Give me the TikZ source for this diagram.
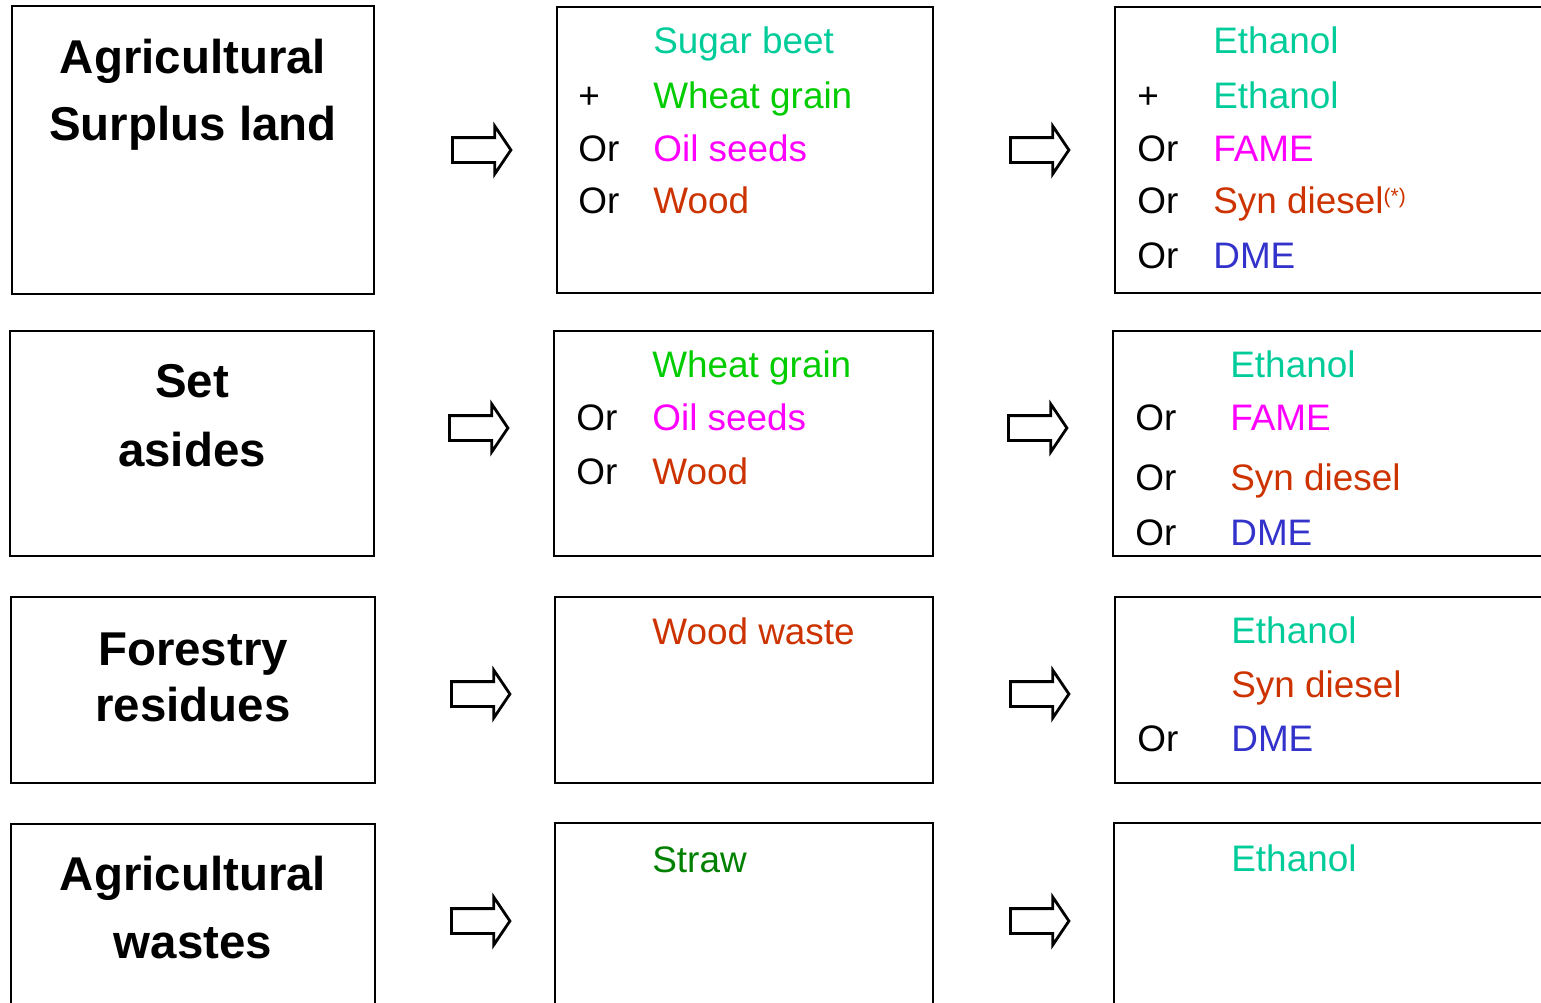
\documentclass[tikz,border=0pt]{standalone}
\usepackage{fontspec}
\setmainfont{Liberation Sans}
\usetikzlibrary{shapes.arrows, fit}
\definecolor{cteal}{HTML}{00CC99}
\definecolor{cwheat}{HTML}{00CC00}
\definecolor{cmag}{HTML}{FF00FF}
\definecolor{cwood}{HTML}{CC3300}
\definecolor{cdme}{HTML}{3333CC}
\definecolor{cstraw}{HTML}{008000}
\tikzset{
  box/.style={draw=black, line width=1.6pt, inner sep=0pt},
  feed/.style={anchor=base, inner sep=0pt, font=\fontsize{27}{32}\selectfont\bfseries},
  item/.style={anchor=base west, inner sep=0pt, font=\fontsize{21}{25}\selectfont},
  fatarrow/.style={single arrow, draw=black, line width=1.6pt, anchor=tail, minimum height=1.17cm,
    inner xsep=0pt, inner ysep=0.22cm, single arrow head extend=0.23cm, single arrow tip angle=112},
}

\begin{document}
\begin{tikzpicture}[x=0.02cm, y=-0.02cm]
  \clip (0,0) rectangle (1541,1002);
  % boxes: feedstock | crop | fuel (right and bottom ones run off the page)
  \node[box, fit={(12,6) (374,294)}] (src1) {};
  \node[box, fit={(10,331) (374,556)}] (src2) {};
  \node[box, fit={(11,597) (375,783)}] (src3) {};
  \node[box, fit={(11,824) (375,1040)}] (src4) {};
  \node[box, fit={(557,7) (933,293)}] (mid1) {};
  \node[box, fit={(554,331) (933,556)}] (mid2) {};
  \node[box, fit={(555,597) (933,783)}] (mid3) {};
  \node[box, fit={(555,823) (933,1040)}] (mid4) {};
  \node[box, fit={(1115,7) (1600,293)}] (out1) {};
  \node[box, fit={(1113,331) (1600,556)}] (out2) {};
  \node[box, fit={(1115,597) (1600,783)}] (out3) {};
  \node[box, fit={(1114,823) (1600,1040)}] (out4) {};
  % block arrows between the columns
  \foreach \n/\y/\xa/\xb in {1/150/451/1009, 2/428/448/1007, 3/694/450/1009, 4/921/450/1009} {
    \node[fatarrow] (arrA\n) at (\xa,\y) {};
    \node[fatarrow] (arrB\n) at (\xb,\y) {};
  }
  % feedstock labels
  \node[feed] (lab1a) at (193,73) {Agricultural};
  \node[feed] (lab1b) at (193,140) {Surplus land};
  \node[feed] (lab2a) at (192,397) {Set};
  \node[feed] (lab2b) at (192,466) {asides};
  \node[feed] (lab3a) at (193,665) {Forestry};
  \node[feed] (lab3b) at (193,721) {residues};
  \node[feed] (lab4a) at (193,890) {Agricultural};
  \node[feed] (lab4b) at (193,958) {wastes};
  % crops, row 1
  \node[item, cteal] (m1a) at (653,53) {Sugar beet};
  \node[item] (p1b) at (578,108) {+};
  \node[item, cwheat] (m1b) at (653,108) {Wheat grain};
  \node[item] (o1c) at (578,161) {Or};
  \node[item, cmag] (m1c) at (653,161) {Oil seeds};
  \node[item] (o1d) at (578,213) {Or};
  \node[item, cwood] (m1d) at (653,213) {Wood};
  % fuels, row 1
  \node[item, cteal] (f1a) at (1213,53) {Ethanol};
  \node[item] (q1b) at (1137,108) {+};
  \node[item, cteal] (f1b) at (1213,108) {Ethanol};
  \node[item] (q1c) at (1137,161) {Or};
  \node[item, cmag] (f1c) at (1213,161) {FAME};
  \node[item] (q1d) at (1137,213) {Or};
  \node[item, cwood] (f1d) at (1213,213) {Syn diesel\raisebox{0.19cm}{\fontsize{12}{14}\selectfont(*)}};
  \node[item] (q1e) at (1137,268) {Or};
  \node[item, cdme] (f1e) at (1213,268) {DME};
  % row 2
  \node[item, cwheat] (m2a) at (652,377) {Wheat grain};
  \node[item] (o2b) at (576,430) {Or};
  \node[item, cmag] (m2b) at (652,430) {Oil seeds};
  \node[item] (o2c) at (576,484) {Or};
  \node[item, cwood] (m2c) at (652,484) {Wood};
  \node[item, cteal] (f2a) at (1230,377) {Ethanol};
  \node[item] (q2b) at (1135,430) {Or};
  \node[item, cmag] (f2b) at (1230,430) {FAME};
  \node[item] (q2c) at (1135,490) {Or};
  \node[item, cwood] (f2c) at (1230,490) {Syn diesel};
  \node[item] (q2d) at (1135,545) {Or};
  \node[item, cdme] (f2d) at (1230,545) {DME};
  % row 3
  \node[item, cwood] (m3a) at (652,644) {Wood waste};
  \node[item, cteal] (f3a) at (1231,643) {Ethanol};
  \node[item, cwood] (f3b) at (1231,697) {Syn diesel};
  \node[item] (q3c) at (1137,751) {Or};
  \node[item, cdme] (f3c) at (1231,751) {DME};
  % row 4
  \node[item, cstraw] (m4a) at (652,872) {Straw};
  \node[item, cteal] (f4a) at (1231,871) {Ethanol};
\end{tikzpicture}
\end{document}
